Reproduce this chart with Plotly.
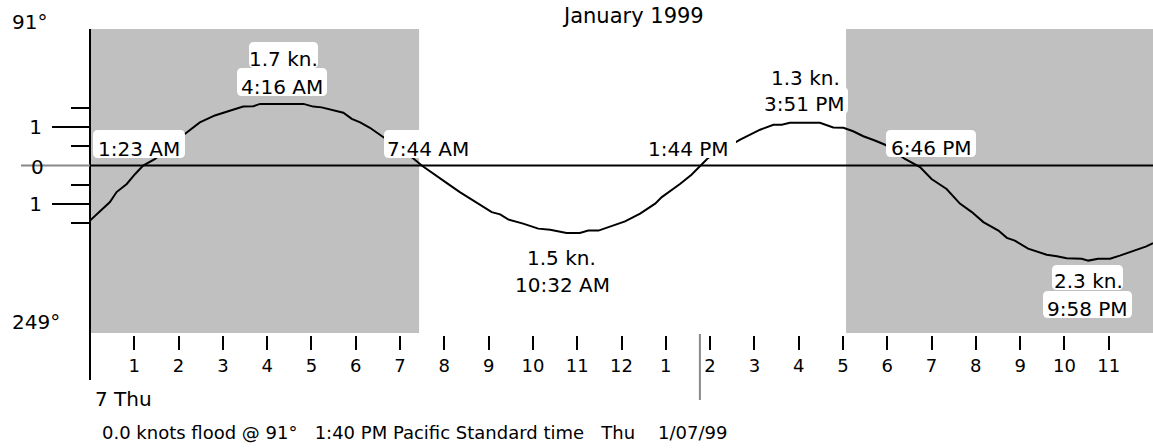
import plotly.graph_objects as go

# ---------------- data ----------------
hours = [0.00, 0.45, 0.60, 0.83, 1.02, 1.20, 1.47, 2.14, 2.48, 2.82, 3.12, 3.46, 3.69, 3.84,
         4.82, 5.04, 5.23, 5.49, 5.72, 5.91, 6.10, 6.32, 6.62, 7.26, 7.49, 7.75, 8.05, 8.35,
         8.58, 8.81, 9.07, 9.26, 9.44, 9.78, 10.12, 10.39, 10.76, 11.06, 11.25, 11.48, 11.74,
         12.08, 12.42, 12.76, 12.91, 13.32, 13.58, 13.81, 13.96, 14.68, 15.13, 15.43, 15.62,
         15.80, 16.48, 16.78, 17.01, 17.23, 17.46, 17.72, 17.95, 18.40, 18.74, 19.00, 19.34,
         19.64, 19.91, 20.17, 20.51, 20.70, 20.88, 21.18, 21.60, 21.83, 22.05, 22.39, 22.54,
         22.76, 23.03, 23.25, 23.55, 23.85, 24.00]
knots = [-1.43, -0.95, -0.69, -0.48, -0.22, 0.00, 0.17, 0.82, 1.12, 1.30, 1.41, 1.53, 1.54, 1.60,
         1.60, 1.53, 1.51, 1.43, 1.37, 1.21, 1.12, 0.98, 0.74, 0.22, 0.00, -0.22, -0.45, -0.69,
         -0.86, -1.04, -1.21, -1.27, -1.40, -1.51, -1.64, -1.67, -1.75, -1.75, -1.69, -1.69, -1.58,
         -1.45, -1.25, -0.99, -0.82, -0.48, -0.24, 0.04, 0.20, 0.67, 0.93, 1.06, 1.06,
         1.11, 1.11, 0.99, 0.98, 0.89, 0.76, 0.65, 0.54, 0.17, -0.04, -0.35, -0.61,
         -0.99, -1.21, -1.47, -1.69, -1.88, -1.95, -2.16, -2.32, -2.36, -2.41, -2.42, -2.47,
         -2.42, -2.42, -2.34, -2.23, -2.10, -2.02]

title_text = "January 1999"
top_dir_label = "91°"
bottom_dir_label = "249°"
hour_tick_vals = list(range(1, 24))
hour_tick_text = ["1", "2", "3", "4", "5", "6", "7", "8", "9", "10", "11", "12",
                  "1", "2", "3", "4", "5", "6", "7", "8", "9", "10", "11"]
y_major_vals = [-1, 1]
y_major_text = ["1", "1"]
y_minor_vals = [-1.5, -0.5, 0.5, 1.5]
sunrise_hour = 7.43
sunset_hour = 17.07
now_hour = 13.77
day_label = "7 Thu"
footer_text = ("0.0 knots flood @ 91°\u00a0\u00a0\u00a01:40 PM Pacific Standard time"
               "\u00a0\u00a0\u00a0Thu\u00a0\u00a0\u00a0\u00a01/07/99")
slack_labels = ["1:23 AM", "7:44 AM", "1:44 PM", "6:46 PM"]
speed_labels = ["1.7 kn.", "1.5 kn.", "1.3 kn.", "2.3 kn."]
peak_time_labels = ["4:16 AM", "10:32 AM", "3:51 PM", "9:58 PM"]

# ---------------- layout helpers (pixel positions -> paper) ----------------
W, H = 1153, 448
PL, PR, PT, PB = 90, 1153, 29, 335     # plot area in pixels
PW, PH = PR - PL, PB - PT
Y_TOP, Y_BOT, Y_ZERO = 29, 333, 165.5
K = 38.5                                 # pixels per knot
y_range = [-(Y_BOT - Y_ZERO) / K, (Y_ZERO - Y_TOP) / K]


def X(px):
    return (px - PL) / PW


def Y(py):
    return (PB - py) / PH


FONT = "DejaVu Sans"
GRAY = "#C0C0C0"

fig = go.Figure()
fig.add_trace(go.Scatter(x=hours, y=knots, mode="lines",
                         line=dict(color="black", width=2), hoverinfo="skip",
                         showlegend=False))

shapes = []
# night shading
for x0, x1 in [(0, sunrise_hour), (sunset_hour, 24)]:
    shapes.append(dict(type="rect", xref="x", yref="y domain", x0=x0, x1=x1, y0=0, y1=1,
                       fillcolor=GRAY, line=dict(width=0), layer="below"))
# zero line
shapes.append(dict(type="line", xref="x", yref="y", x0=0, x1=24, y0=0, y1=0,
                   line=dict(color="black", width=2), layer="below"))
# left vertical axis line
shapes.append(dict(type="line", xref="paper", yref="paper", x0=0, x1=0, y0=Y(380), y1=Y(Y_TOP),
                   line=dict(color="black", width=2)))
# zero tick outside (gray)
shapes.append(dict(type="line", xref="paper", yref="y", x0=X(21), x1=0, y0=0, y1=0,
                   line=dict(color="#888888", width=2)))
# "now" separator
shapes.append(dict(type="line", xref="x domain", yref="paper", x0=now_hour / 24, x1=now_hour / 24,
                   y0=Y(334), y1=Y(400), line=dict(color="#888888", width=2)))


def rbox(x0, y0, x1, y1, r=5):
    p = (f"M {X(x0 + r)},{Y(y0)} L {X(x1 - r)},{Y(y0)} Q {X(x1)},{Y(y0)} {X(x1)},{Y(y0 + r)} "
         f"L {X(x1)},{Y(y1 - r)} Q {X(x1)},{Y(y1)} {X(x1 - r)},{Y(y1)} "
         f"L {X(x0 + r)},{Y(y1)} Q {X(x0)},{Y(y1)} {X(x0)},{Y(y1 - r)} "
         f"L {X(x0)},{Y(y0 + r)} Q {X(x0)},{Y(y0)} {X(x0 + r)},{Y(y0)} Z")
    return dict(type="path", xref="paper", yref="paper", path=p, fillcolor="white",
                line=dict(width=0), layer="above")


for b in [(93, 130, 185, 158), (249, 42, 318, 68), (237, 68, 327, 96), (384, 130, 473, 158),
          (641, 130, 736, 158), (760, 87, 848, 114), (886, 130, 976, 157),
          (1052, 265, 1123, 290), (1043, 291, 1132, 318)]:
    shapes.append(rbox(*b))

annotations = []


def ann(text, px, py, size=20, xanchor="center", color="black"):
    annotations.append(dict(text=text, xref="paper", yref="paper", x=X(px), y=Y(py),
                            xanchor=xanchor, yanchor="middle", showarrow=False,
                            font=dict(family=FONT, size=size, color=color)))


ann(title_text, 633, 16, size=21)
ann(top_dir_label, 10, 22, xanchor="left")
ann(bottom_dir_label, 10, 322, xanchor="left")
ann("0", 37, 167)
ann(day_label, 93, 399, xanchor="left")
ann(footer_text, 100, 432, size=18, xanchor="left")

slack_pos = [(139, 149), (428, 149), (688, 149), (931, 148)]
for t, (px, py) in zip(slack_labels, slack_pos):
    ann(t, px, py)
speed_pos = [(283, 59), (561, 258), (805, 78), (1088, 281)]
for t, (px, py) in zip(speed_labels, speed_pos):
    ann(t, px, py)
time_pos = [(282, 87), (562, 285), (804, 104), (1087, 309)]
for t, (px, py) in zip(peak_time_labels, time_pos):
    ann(t, px, py)

fig.update_layout(
    width=W, height=H,
    margin=dict(l=PL, r=W - PR, t=PT, b=H - PB, pad=0),
    paper_bgcolor="white", plot_bgcolor="white",
    showlegend=False,
    shapes=shapes, annotations=annotations,
    xaxis=dict(range=[0, 24], anchor="free", position=0, showgrid=False, zeroline=False,
               showline=False, ticks="outside", ticklen=14, tickwidth=2, tickcolor="black",
               tickmode="array", tickvals=hour_tick_vals, ticktext=hour_tick_text,
               tickfont=dict(family=FONT, size=18, color="black"), fixedrange=True),
    yaxis=dict(range=y_range, domain=[Y(Y_BOT), 1], showgrid=False, zeroline=False,
               showline=False, ticks="outside", ticklen=37, tickwidth=2, tickcolor="black",
               tickmode="array", tickvals=y_major_vals, ticktext=y_major_text,
               tickfont=dict(family=FONT, size=20, color="black"), ticklabelstandoff=6,
               minor=dict(tickmode="array", tickvals=y_minor_vals, ticks="outside",
                          ticklen=18, tickwidth=2, tickcolor="black"),
               fixedrange=True),
)

fig.write_html("out.html", config={"displayModeBar": False},
               post_script="document.body.style.margin='0px';")
